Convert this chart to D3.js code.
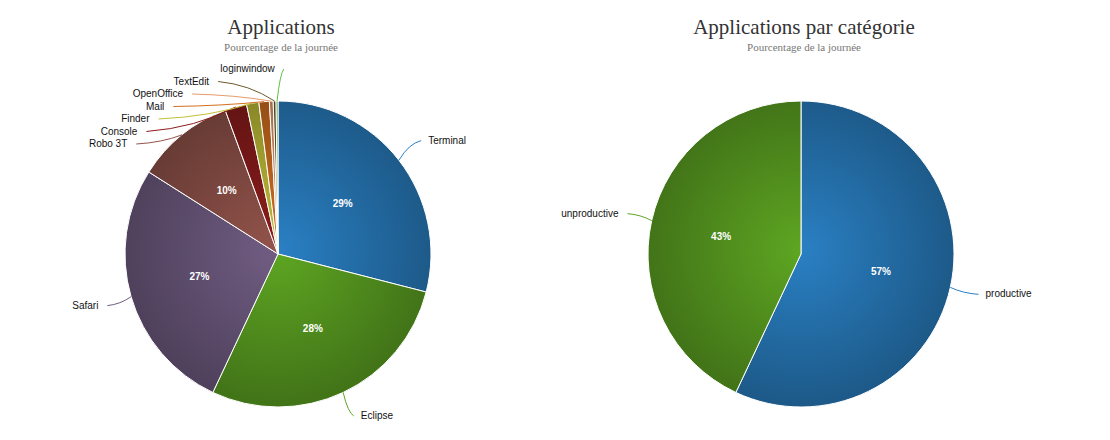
<!DOCTYPE html>
<html><head><meta charset="utf-8">
<script src="https://cdn.jsdelivr.net/npm/d3@7"></script>
<style>
body{margin:0;background:#fff;}
svg{display:block;}
</style></head>
<body>
<svg id="chart" width="1110" height="440"></svg>
<script>
// ---- data ----
const appNames = ["Terminal","Eclipse","Safari","Robo 3T","Console","Finder","Mail","OpenOffice","TextEdit","loginwindow"];
const appValues = [29.0, 28.0, 27.0, 10.4, 2.3, 1.3, 1.1, 0.4, 0.3, 0.2];
const appColors = ["#2a80c4","#5ea622","#715d83","#93544b","#8e1c1c","#c2c038","#d3701f","#e89a6a","#6b5a2a","#5cc244"];
const catNames = ["productive","unproductive"];
const catValues = [57, 43];
const catColors = ["#2a80c4","#5ea622"];
const titles = ["Applications","Applications par catégorie"];
const subtitle = "Pourcentage de la journée";

const svg = d3.select("#chart");
const defs = svg.append("defs");

function drawPie(opts){
  const {cx, cy, r, names, values, colors, title, id} = opts;
  const g = svg.append("g");
  g.append("text").attr("x", cx+3).attr("y", 34).attr("text-anchor","middle")
    .style("font-family","'Liberation Serif','Times New Roman',serif").style("font-size","21px").attr("fill","#333")
    .text(title);
  g.append("text").attr("x", cx+3).attr("y", 51).attr("text-anchor","middle")
    .style("font-family","'Liberation Serif','Times New Roman',serif").style("font-size","11px").attr("fill","#777")
    .text(subtitle);

  const data = names.map((n,i)=>({name:n, value:values[i], color:colors[i], i}));
  const pie = d3.pie().value(d=>d.value).sort(null);
  const arcs = pie(data);
  const arc = d3.arc().innerRadius(0).outerRadius(r);

  arcs.forEach((a,i)=>{
    const gid = id+"g"+i;
    const grad = defs.append("radialGradient").attr("id",gid)
      .attr("gradientUnits","userSpaceOnUse").attr("cx",0).attr("cy",-4).attr("r",r);
    grad.append("stop").attr("offset","0%").attr("stop-color", a.data.color);
    grad.append("stop").attr("offset","100%").attr("stop-color", d3.color(a.data.color).darker(1.0).formatHex());
  });

  const pg = g.append("g").attr("transform",`translate(${cx},${cy})`);
  pg.selectAll("path.slice").data(arcs).join("path").attr("class","slice")
    .attr("d",arc).attr("fill",(d,i)=>`url(#${id}g${i})`)
    .attr("stroke","#fff").attr("stroke-width",1).attr("stroke-linejoin","round");

  // inside percent labels
  pg.selectAll("text.pct").data(arcs.filter(a=>a.data.value>=5)).join("text").attr("class","pct")
    .attr("x",d=>{const m=(d.startAngle+d.endAngle)/2; return Math.sin(m)*r*0.535;})
    .attr("y",d=>{const m=(d.startAngle+d.endAngle)/2; return -Math.cos(m)*r*0.535+3.5;})
    .attr("text-anchor","middle").attr("fill","#fff")
    .style("font-family","'Liberation Sans',Arial,sans-serif").style("font-size","10px").style("font-weight","bold")
    .text(d=>Math.round(d.data.value)+"%");

  // outside labels with collision handling
  const R = r + 32;
  const labs = arcs.map(a=>{
    const m=(a.startAngle+a.endAngle)/2;
    return {a, m, left: m > Math.PI, y: -Math.cos(m)*R};
  });
  ["left","right"].forEach(side=>{
    const set = labs.filter(l=> (side==="left")===l.left).sort((p,q)=>p.y-q.y);
    let prev = -Infinity;
    set.forEach(l=>{
      l.yx = Math.max(l.y, -R, prev + 12.5);
      l.y = Math.min(l.yx, r + 9);
      prev = l.y;
    });
  });
  labs.forEach(l=>{
    const dx = Math.sqrt(Math.max(0, R*R - l.yx*l.yx));
    l.x = l.left ? -dx : dx;
    const ex = Math.sin(l.m)*r, ey = -Math.cos(l.m)*r;
    const sx = l.left ? l.x + 7 : l.x - 3;
    const sy = l.y;
    const qx = ex + (sx-ex)*0.45, qy = sy + (ey-sy)*0.15;
    pg.append("path").attr("d",`M${sx},${sy}Q${qx},${qy} ${ex},${ey}`)
      .attr("fill","none").attr("stroke", l.a.data.color).attr("stroke-width",1);
    pg.append("text").attr("x", l.left ? l.x - 2 : l.x + 4).attr("y", l.y + 3)
      .attr("text-anchor", l.left ? "end" : "start").attr("fill","#111")
      .style("font-family","'Liberation Sans',Arial,sans-serif").style("font-size","10px")
      .text(l.a.data.name);
  });
}

drawPie({cx:278, cy:254, r:153, names:appNames, values:appValues, colors:appColors, title:titles[0], id:"a"});
drawPie({cx:801, cy:254, r:153, names:catNames, values:catValues, colors:catColors, title:titles[1], id:"c"});
</script>
</body></html>
